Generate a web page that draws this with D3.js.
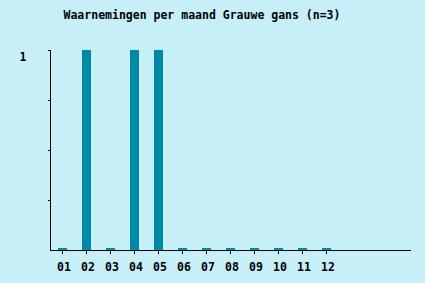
<!DOCTYPE html>
<meta charset="utf-8">
<style>

body {
  margin: 0;
  background: #c6eff7;
}

svg {
  display: block;
  font: bold 11.5px "DejaVu Sans Mono", monospace;
}

</style>
<svg width="425" height="283"></svg>
<script src="https://d3js.org/d3.v7.min.js"></script>
<script>

var months = ["01", "02", "03", "04", "05", "06", "07", "08", "09", "10", "11", "12"],
    counts = [0, 1, 0, 1, 1, 0, 0, 0, 0, 0, 0, 0],
    yTicks = [0, 0.25, 0.5, 0.75, 1],
    yLabels = [1];

var title = "Waarnemingen per maand Grauwe gans (n=3)";

</script>
<script>

var svg = d3.select("svg");

var x = d3.scaleBand()
    .domain(months)
    .range([50, 339])
    .paddingInner(0.625)
    .paddingOuter(1 / 3);

var y = d3.scaleLinear()
    .domain([0, 1])
    .range([250, 50]);

svg.append("text")
    .attr("x", 202)
    .attr("y", 19)
    .attr("text-anchor", "middle")
    .text(title);

svg.append("g")
    .attr("fill", "#0088a8")
  .selectAll("rect")
  .data(counts)
  .enter().append("rect")
    .attr("x", function(d, i) { return x(months[i]); })
    .attr("width", x.bandwidth())
    .attr("y", function(d) { return Math.min(y(d), 248); })
    .attr("height", function(d) { return Math.max(250 - y(d), 2); });

// y axis
svg.append("line")
    .attr("x1", 50.5).attr("x2", 50.5)
    .attr("y1", 50).attr("y2", 251)
    .attr("stroke", "#000");

svg.append("g")
  .selectAll("line")
  .data(yTicks.slice(1))
  .enter().append("line")
    .attr("x1", 48).attr("x2", 50)
    .attr("y1", function(d) { return Math.round(y(d)) + 0.5; })
    .attr("y2", function(d) { return Math.round(y(d)) + 0.5; })
    .attr("stroke", "#000");

svg.append("g")
  .selectAll("text")
  .data(yLabels)
  .enter().append("text")
    .attr("x", 23)
    .attr("y", function(d) { return y(d) + 11; })
    .attr("text-anchor", "middle")
    .text(function(d) { return d; });

// x axis
svg.append("line")
    .attr("x1", 50).attr("x2", 411)
    .attr("y1", 250.5).attr("y2", 250.5)
    .attr("stroke", "#000");

svg.append("g")
  .selectAll("line")
  .data(months)
  .enter().append("line")
    .attr("x1", function(d) { return Math.floor(x(d) + x.bandwidth() / 2) + 0.5; })
    .attr("x2", function(d) { return Math.floor(x(d) + x.bandwidth() / 2) + 0.5; })
    .attr("y1", 251).attr("y2", 254)
    .attr("stroke", "#000");

svg.append("g")
  .selectAll("text")
  .data(months)
  .enter().append("text")
    .attr("x", function(d) { return x(d) + x.bandwidth() / 2 + 1.5; })
    .attr("y", 271)
    .attr("text-anchor", "middle")
    .text(function(d) { return d; });

</script>
